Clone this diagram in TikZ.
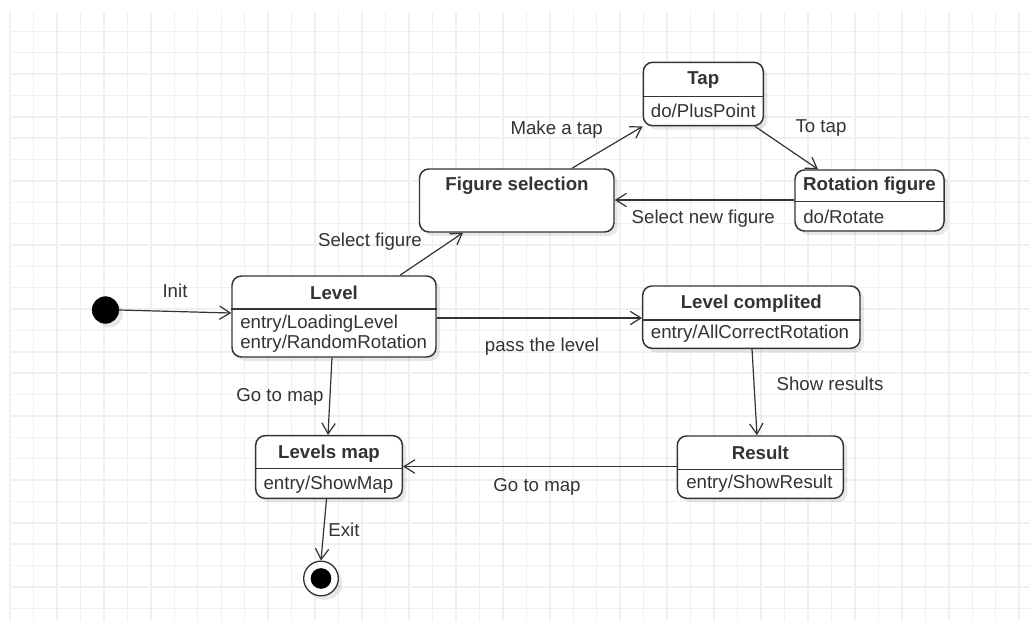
\documentclass[tikz,border=0pt]{standalone}
\usepackage{fontspec}
\setmainfont{Liberation Sans}
\usetikzlibrary{arrows.meta,fit,shadows}
\definecolor{ink}{HTML}{333333}
\definecolor{gridc}{HTML}{F0F0F0}
\begin{document}
\begin{tikzpicture}[x=0.75pt,y=-0.75pt,
  font=\fontsize{14}{16}\selectfont, text=ink,
  gridline/.style={draw=gridc, line width=1.1pt},
  shadowed/.style={drop shadow={shadow xshift=3pt, shadow yshift=-3pt, opacity=0.09, fill=black}},
  statebox/.style={draw=ink, line width=1.1pt, rounded corners=7pt, fill=white, inner sep=0pt, shadowed},
  divider/.style={draw=ink, line width=1.1pt},
  title/.style={font=\fontsize{14}{16}\selectfont\bfseries, inner sep=0pt},
  entry/.style={anchor=west, inner sep=0pt},
  lbl/.style={inner sep=0pt},
  edge/.style={draw=ink, line width=0.9pt, -{Straight Barb[length=8pt,width=10pt,line width=0.9pt]}},
  initstate/.style={circle, fill=black, draw=black, minimum size=20pt, inner sep=0pt, shadowed},
  finalring/.style={circle, draw=ink, line width=1pt, fill=white, minimum size=26pt, inner sep=0pt, shadowed},
  finaldot/.style={circle, fill=black, minimum size=15.5pt, inner sep=0pt}
]
% canvas and grid
\fill[white] (0,0) rectangle (1030,621);
\useasboundingbox (0,0) rectangle (1030,621);
\foreach \k in {0,...,43} \draw[gridline] ({10+23.47*\k},12) -- ({10+23.47*\k},621);
\foreach \k in {0,...,27} \draw[gridline] (10,{31.3+21.37*\k}) -- (1030,{31.3+21.37*\k});

% pseudo states
\node[initstate] (init) at (105.5,310) {};
\node[finalring] (final) at (321,578.5) {};
\node[finaldot] (finaldot) at (final.center) {};

% Level
\node[statebox, fit={(232,276)(436,357)}] (level) {};
\draw[divider] (level.west |- 0,309) -- (level.east |- 0,309);
\node[title] (levelT) at (334,292.5) {Level};
\node[entry] (levelE1) at (240,323.5) {entry/LoadingLevel};
\node[entry] (levelE2) at (240,343.5) {entry/RandomRotation};

% Figure selection
\node[statebox, fit={(419.5,169)(614,232)}] (figsel) {};
\node[title] (figselT) at (517,186) {Figure selection};

% Tap
\node[statebox, fit={(643.3,62.3)(763.3,125.7)}] (tap) {};
\draw[divider] (tap.west |- 0,96.7) -- (tap.east |- 0,96.7);
\node[title] (tapT) at (703.3,80) {Tap};
\node[entry] (tapE) at (650.7,110.5) {do/PlusPoint};

% Rotation figure
\node[statebox, fit={(795,170)(944,231)}] (rot) {};
\draw[divider] (rot.west |- 0,201.7) -- (rot.east |- 0,201.7);
\node[title] (rotT) at (869.5,185.7) {Rotation figure};
\node[entry] (rotE) at (803,217.3) {do/Rotate};

% Level complited
\node[statebox, fit={(642.7,286)(860,348.3)}] (done) {};
\draw[divider] (done.west |- 0,320) -- (done.east |- 0,320);
\node[title] (doneT) at (751.3,303.3) {Level complited};
\node[entry] (doneE) at (650.7,333.3) {entry/AllCorrectRotation};

% Result
\node[statebox, fit={(677.3,436)(843.3,498.3)}] (result) {};
\draw[divider] (result.west |- 0,469.3) -- (result.east |- 0,469.3);
\node[title] (resultT) at (760.3,452.7) {Result};
\node[entry] (resultE) at (686,483.3) {entry/ShowResult};

% Levels map
\node[statebox, fit={(255.7,435.7)(402.3,498.3)}] (map) {};
\draw[divider] (map.west |- 0,468.3) -- (map.east |- 0,468.3);
\node[title] (mapT) at (329,453.3) {Levels map};
\node[entry] (mapE) at (263.3,484.3) {entry/ShowMap};

% transitions
\draw[edge] (init.east) -- (level.west |- 0,313);
\draw[edge] (level.north -| 400,0) -- (figsel.south -| 463,0);
\draw[edge] (figsel.north -| 572,0) -- (tap.south west);
\draw[edge] (tap.south -| 755,0) -- (rot.north -| 818,0);
\draw[edge] (rot.west |- 0,200) -- (figsel.east |- 0,200);
\draw[edge] (level.east |- 0,318) -- (done.west |- 0,318);
\draw[edge] (done.south -| 752,0) -- (result.north -| 757,0);
\draw[edge] (result.west |- 0,466.5) -- (map.east |- 0,466.5);
\draw[edge] (level.south -| 332,0) -- (map.north -| 328,0);
\draw[edge] (map.south -| 326.5,0) -- (final.north);

% transition labels
\node[lbl] (lInit) at (175,290.7) {Init};
\node[lbl] (lSel) at (370,241.7) {Select figure};
\node[lbl] (lMake) at (556.7,130) {Make a tap};
\node[lbl] (lTo) at (821,128.3) {To tap};
\node[lbl] (lNew) at (703.3,219) {Select new figure};
\node[lbl] (lPass) at (542,347) {pass the level};
\node[lbl] (lShow) at (830,384.3) {Show results};
\node[lbl] (lGo1) at (537,487) {Go to map};
\node[lbl] (lGo2) at (280,396.7) {Go to map};
\node[lbl] (lExit) at (344,530) {Exit};
\end{tikzpicture}
\end{document}
